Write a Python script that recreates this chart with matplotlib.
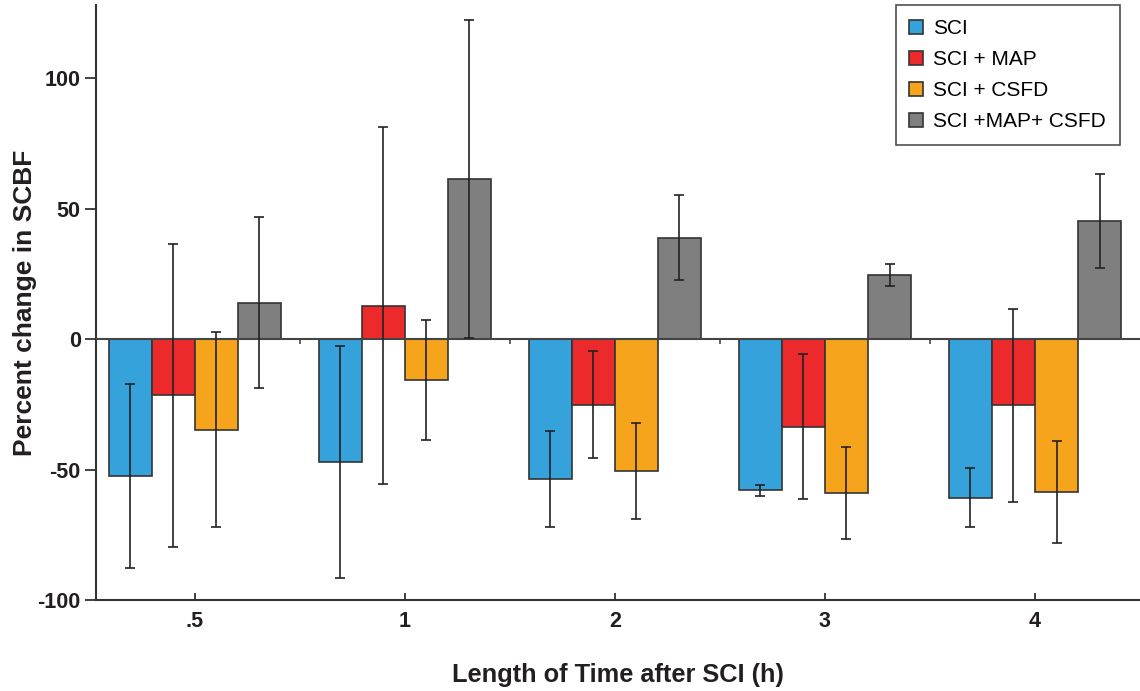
import numpy as np
import matplotlib
matplotlib.use("Agg")
import matplotlib.pyplot as plt
from matplotlib.patches import Patch

plt.rcParams['font.family'] = ['Liberation Sans', 'DejaVu Sans']

# data
time_labels = ['.5', '1', '2', '3', '4']
series = ['SCI', 'SCI + MAP', 'SCI + CSFD', 'SCI +MAP+ CSFD']
sci = [-52.5, -47.1, -53.8, -58.0, -60.8]
sci_err = [35.3, 44.4, 18.4, 2.2, 11.2]
sci_map = [-21.5, 12.8, -25.1, -33.6, -25.4]
sci_map_err = [58.0, 68.4, 20.5, 27.8, 37.0]
sci_csfd = [-34.7, -15.7, -50.6, -58.9, -58.6]
sci_csfd_err = [37.4, 23.0, 18.5, 17.6, 19.5]
sci_map_csfd = [14.0, 61.3, 38.9, 24.7, 45.4]
sci_map_csfd_err = [32.7, 61.0, 16.2, 4.2, 18.0]

values = [sci, sci_map, sci_csfd, sci_map_csfd]
errors = [sci_err, sci_map_err, sci_csfd_err, sci_map_csfd_err]
colors = ['#36A2DB', '#EC2A2B', '#F7A41D', '#7F7F7F']

fig = plt.figure(figsize=(11.4, 6.91), dpi=100)
ax = fig.add_axes([0.0842, 0.1317, 0.9158, 0.861])

x = np.arange(len(time_labels))
w = 0.205
for i, (vals, errs, col) in enumerate(zip(values, errors, colors)):
    pos = x + (i - 1.5) * w
    ax.bar(pos, vals, w, color=col, edgecolor='#333333', linewidth=1.2, zorder=2)
    ax.errorbar(pos, vals, yerr=errs, fmt='none', ecolor='#222222',
                elinewidth=1.2, capsize=3.5, capthick=1.2, zorder=4)

# zero line with small ticks between groups
ax.axhline(0, color='#444444', linewidth=1.5, zorder=3)
mids = x[:-1] + 0.5
ax.vlines(mids, -2.0, 0, color='#444444', linewidth=1.2, zorder=3)

ax.set_xlim(-0.47, 4.5)
ax.set_ylim(-100, 128)
ax.set_xticks(x)
ax.set_xticklabels(time_labels)
ax.set_yticks([-100, -50, 0, 50, 100])
ax.set_yticklabels(['-100', '-50', '0', '50', '100'])

for s in ['top', 'right']:
    ax.spines[s].set_visible(False)
for s in ['left', 'bottom']:
    ax.spines[s].set_color('#333333')
    ax.spines[s].set_linewidth(1.5)

ax.tick_params(axis='y', direction='out', length=8, width=1.3, color='#333333',
               labelsize=15.5, pad=3)
ax.tick_params(axis='x', direction='in', length=5, width=1.3, color='#333333',
               labelsize=15.5, pad=8)
for lab in ax.get_xticklabels() + ax.get_yticklabels():
    lab.set_fontweight('bold')
    lab.set_color('#231f20')

ax.set_ylabel('Percent change in SCBF', fontsize=19, fontweight='bold',
              color='#231f20', labelpad=0)
ax.set_xlabel('Length of Time after SCI (h)', fontsize=18.3, fontweight='bold',
              color='#231f20', labelpad=22)

handles = [Patch(facecolor=c, edgecolor='#333333', linewidth=1.2) for c in colors]
leg = ax.legend(handles, series, loc='upper right', bbox_to_anchor=(0.981, 1.0),
                fontsize=15, frameon=True, fancybox=False, handlelength=0.65,
                handleheight=0.65, handletextpad=0.5, labelspacing=0.58,
                borderpad=0.67, borderaxespad=0.0)
leg.get_frame().set_edgecolor('#222222')
leg.get_frame().set_linewidth(1.2)

fig.savefig('out.png', dpi=100)
